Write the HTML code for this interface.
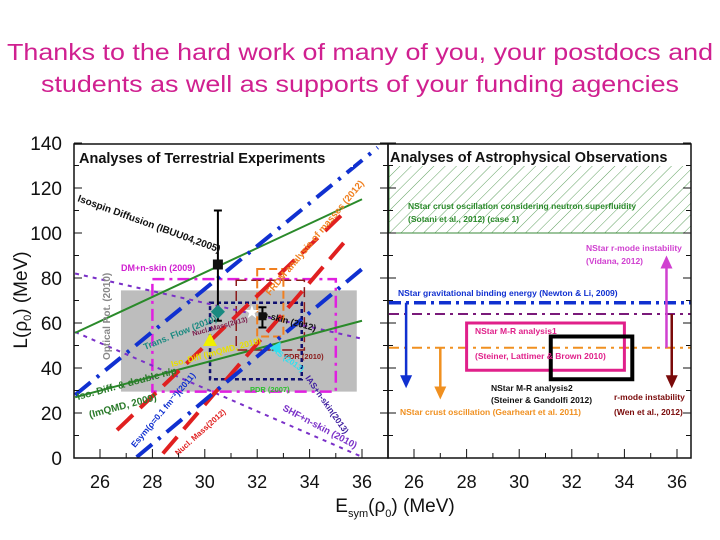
<!DOCTYPE html>
<html><head><meta charset="utf-8"><style>
body{margin:0;background:#fff;}
svg{display:block;font-family:"Liberation Sans",Arial,sans-serif;}
</style></head><body>
<svg id="chart" width="720" height="540" viewBox="0 0 720 540" xmlns="http://www.w3.org/2000/svg">
<defs>
<pattern id="hatch" width="8" height="8" patternUnits="userSpaceOnUse" patternTransform="rotate(45)">
<line x1="0" y1="0" x2="0" y2="8" stroke="#3a8a3a" stroke-width="0.8"/>
</pattern>
</defs>
<text x="360" y="60" text-anchor="middle" font-size="23" fill="#d02090" textLength="706" lengthAdjust="spacingAndGlyphs">Thanks to the hard work of many of you, your postdocs and</text>
<text x="360" y="92" text-anchor="middle" font-size="23" fill="#d02090" textLength="638" lengthAdjust="spacingAndGlyphs">students as well as supports of your funding agencies</text>
<g id="left"></g>
<g id="right"></g>
<g id="axes"></g>
</svg>
<script>
// ---- data ----
const xTickLabels = [26,28,30,32,34,36];
const yTickLabels = [0,20,40,60,80,100,120,140];
// terrestrial constraint lines: [e1, L1, e2, L2]
const greenLines = [[25.05,55.6,36,115],[25.05,27,36,61]];
const blueLines = [[25.05,28,36.6,138],[27.4,0.4,36,84]];
const redLines = [[26.65,12.4,35.4,110],[28.4,2,35.3,95.6]];
const purpleLines = [[25.05,82,36,53],[25.05,56,36,0.5]];
// boxes: [e1,e2,L1,L2]
const grayBox = [26.8,35.8,29.5,74.5];
const dmBox = [28.0,35.0,29.5,79.5];
const pdrBox = [30.2,33.7,35,69];
const frdmBox = [32.0,33.0,54,84];
const massBox = [31.2,33.8,48,79];
// points: [e, L, errLow, errHigh]
const ibuuPoint = [30.5,86,61,110];
const nskinPoint = [32.2,63,58,67];
const flowPoint = [30.5,65];
const starPoint = [31.8,65];
const isoPoint = [30.2,52];
const iasPoint = [32.7,49];
// astrophysical
const hatchBand = [100,130];
const gbeLevel = 69, rmodeLevel = 64, crustLevel = 49;
const mr1 = [28.0,34.0,39,60];
const mr2 = [31.2,34.3,35,54];
const arrowBlue = [25.7,69,31];
const arrowOrange = [27.0,49,26];
const arrowMagenta = [35.6,49,90];
const arrowDark = [35.8,64,31];

// ---- scales ----
const xL = e => 100 + (e-26)*26.2;
const xR = e => 414 + (e-26)*26.3;
const yS = L => 458 - L*2.25;
const NS="http://www.w3.org/2000/svg";
function mk(parent,tag,attrs){const el=document.createElementNS(NS,tag);for(const k in attrs)el.setAttribute(k,attrs[k]);parent.appendChild(el);return el;}
const left=document.getElementById('left'), right=document.getElementById('right'), axes=document.getElementById('axes');

function box(g,b,xs,stroke,fill,dash,w,name){
  const el=mk(g,'rect',{x:xs(b[0]),y:yS(b[3]),width:xs(b[1])-xs(b[0]),height:yS(b[2])-yS(b[3]),fill:fill,stroke:stroke,'stroke-width':w,'stroke-dasharray':dash});
  
  
}
box(left,grayBox,xL,'none','#bdbdbd','',0,'optical-pot-band');
box(left,dmBox,xL,'#e020e0','none','12 5 3 5',2.5,'dm-nskin-box');
box(left,massBox,xL,'#8b1a1a','none','10 5',1.5,'nucl-mass-box');
box(left,pdrBox,xL,'#101070','none','4 3',2.5,'pdr-box');
box(left,frdmBox,xL,'#f08020','none','8 4',2,'frdm-box');

function lines(g,arr,color,dash,w,name){
  arr.forEach(a=>{
    const el=mk(g,'line',{x1:xL(a[0]),y1:yS(a[1]),x2:xL(a[2]),y2:yS(a[3]),stroke:color,'stroke-width':w,'stroke-dasharray':dash});
    
    
  });
}
lines(left,purpleLines,'#7a30c8','4 5',2,'shf-nskin-line');
lines(left,greenLines,'#2a8a2a','',2,'imqmd-line');
lines(left,redLines,'#e02020','22 10',4,'nucl-mass-line');
lines(left,blueLines,'#1030d0','20 8 3 8',4,'esym-line');

// points
function errPoint(p,name,size){
  const el=mk(left,'line',{x1:xL(p[0]),x2:xL(p[0]),y1:yS(p[2]),y2:yS(p[3]),stroke:'#000','stroke-width':2});
  
  
  [p[2],p[3]].forEach(v=>{const c=mk(left,'line',{x1:xL(p[0])-4,x2:xL(p[0])+4,y1:yS(v),y2:yS(v),stroke:'#000','stroke-width':2});});
  const s=mk(left,'rect',{x:xL(p[0])-size/2,y:yS(p[1])-size/2,width:size,height:size,fill:'#101010'});
  
  
}
errPoint(ibuuPoint,'ibuu',10);
errPoint(nskinPoint,'nskin',8);
let d=mk(left,'rect',{x:xL(flowPoint[0])-5,y:yS(flowPoint[1])-5,width:10,height:10,fill:'#1a8a80',transform:`rotate(45 ${xL(flowPoint[0])} ${yS(flowPoint[1])})`});


let st=mk(left,'text',{x:xL(starPoint[0]),y:yS(starPoint[1])+6,'font-size':18,fill:'#fff','text-anchor':'middle'});
st.textContent='★';


let tri=mk(left,'polygon',{points:`${xL(isoPoint[0])},${yS(isoPoint[1])-8} ${xL(isoPoint[0])-7},${yS(isoPoint[1])+5} ${xL(isoPoint[0])+7},${yS(isoPoint[1])+5}`,fill:'#f0f000'});


let cy=mk(left,'polygon',{points:`${xL(iasPoint[0])-6},${yS(iasPoint[1])} ${xL(iasPoint[0])+5},${yS(iasPoint[1])-6} ${xL(iasPoint[0])+5},${yS(iasPoint[1])+6}`,fill:'#30e0f0'});



// left labels
function lbl(g,x,y,t,c,fs,rot,name,bold){
  const el=mk(g,'text',{x:x,y:y,'font-size':fs,fill:c,'font-weight':bold===false?'normal':'bold'});
  if(rot)el.setAttribute('transform',`rotate(${rot} ${x} ${y})`);
  el.textContent=t;
  
  
}
mk(left,'rect',{x:75,y:145,width:278,height:22,fill:'#fff'});
lbl(left,79,163,'Analyses of Terrestrial Experiments','#111',14.5,0,'terrestrial-title');
lbl(left,77,201,'Isospin Diffusion (IBUU04,2005)','#111',10,20,'isospin-diffusion-label');
lbl(left,121,271,'DM+n-skin (2009)','#d020d0',9,0,'dm-nskin-label');
lbl(left,110,360,'Optical Pot. (2010)','#888',10,-90,'optical-pot-label');
lbl(left,145,350,'Trans. Flow (2010)','#1a8a80',9,-22,'trans-flow-label');
lbl(left,193,336,'Nucl. Mass(2013)','#7a1a4a',7,-15,'nucl-mass-2013-label');
lbl(left,172,367,'Iso. Diff (ImQMD, 2010)','#e8e000',8.5,-15,'iso-diff-label');
lbl(left,270,296,'FRDM analysis of masses (2012)','#f08020',9.5,-50,'frdm-label');
lbl(left,262,317,'n-skin (2012)','#111',9,15,'nskin-label');
lbl(left,284,359,'PDR (2010)','#8b1a1a',7.5,0,'pdr-label');
lbl(left,250,392,'PDR (2007)','#30c030',7.5,0,'pdr-2007-label');
lbl(left,270,350,'IAS (2013)','#30e0f0',8,35,'ias-label');
lbl(left,305,378,'IAS+n-skin(2013)','#4020a0',8.5,55,'ias-nskin-label');
lbl(left,78,400,'Iso. Diff. & double n/p','#2a7a2a',10,-15,'iso-diff-double-label');
lbl(left,90,418,'(ImQMD, 2009)','#2a7a2a',10,-15,'imqmd-label');
lbl(left,135,448,'Esym(ρ=0.1 fm⁻³)(2011)','#1030d0',8.5,-50,'esym-label');
lbl(left,178,456,'Nucl. Mass(2012)','#e02020',8,-42,'nucl-mass-label');
lbl(left,282,410,'SHF+n-skin (2010)','#7a30c8',9.5,28,'shf-nskin-label');

// right panel
let h=mk(right,'rect',{x:389,y:yS(hatchBand[1]),width:302,height:yS(hatchBand[0])-yS(hatchBand[1]),fill:'url(#hatch)',stroke:'#3a8a3a','stroke-width':1});


mk(right,'rect',{x:389,y:145,width:302,height:21,fill:'#fff'});
function hline(L,c,dash,w,name){const el=mk(right,'line',{x1:389,x2:691,y1:yS(L),y2:yS(L),stroke:c,'stroke-width':w,'stroke-dasharray':dash});}
hline(gbeLevel,'#1030d0','12 5 3 5',3.5,'gbe-line');
hline(rmodeLevel,'#7a1a7a','10 5 3 5',2,'rmode-wen-line');
hline(crustLevel,'#f09020','10 5 3 5',2,'crust-osc-line');
box(right,mr1,xR,'#e0208a','none','',3,'mr-analysis1-box');
box(right,mr2,xR,'#000','none','',4,'mr-analysis2-box');
function arrow(a,c,name){
  const x=xR(a[0]),y1=yS(a[1]),y2=yS(a[2]);const dir=y2>y1?1:-1;
  const l=mk(right,'line',{x1:x,x2:x,y1:y1,y2:y2-dir*10,stroke:c,'stroke-width':2.5});
  
  
  const p=mk(right,'polygon',{points:`${x-6},${y2-dir*13} ${x+6},${y2-dir*13} ${x},${y2}`,fill:c});
  
  
}
arrow(arrowBlue,'#1030d0','gbe-arrow');
arrow(arrowOrange,'#f09020','crust-arrow');
arrow(arrowMagenta,'#d040d0','rmode-vidana-arrow');
arrow(arrowDark,'#7a0a0a','rmode-wen-arrow');
lbl(right,390,162,'Analyses of Astrophysical Observations','#111',14.5,0,'astro-title');
lbl(right,408,209,'NStar crust oscillation considering neutron superfluidity','#2a8a2a',8.5,0,'superfluidity-label');
lbl(right,408,222,'(Sotani et al., 2012) (case 1)','#2a8a2a',8.5,0,'sotani-label');
lbl(right,586,251,'NStar r-mode instability','#d040d0',8.5,0,'vidana-label');
lbl(right,586,264,'(Vidana, 2012)','#d040d0',8.5,0,'vidana-ref-label');
lbl(right,398,296,'NStar gravitational binding energy (Newton & Li, 2009)','#1030d0',8.5,0,'gbe-label');
lbl(right,475,334,'NStar M-R analysis1','#e0208a',8.5,0,'mr1-label');
lbl(right,475,359,'(Steiner, Lattimer & Brown 2010)','#e0208a',8.5,0,'mr1-ref-label');
lbl(right,491,391,'NStar M-R  analysis2','#111',8.5,0,'mr2-label');
lbl(right,491,403,'(Steiner & Gandolfi 2012)','#111',8.5,0,'mr2-ref-label');
lbl(right,400,415,'NStar crust oscillation (Gearheart et al. 2011)','#f09020',8.5,0,'crust-osc-label');
lbl(right,614,400,'r-mode instability','#7a0a0a',8.5,0,'wen-label');
lbl(right,614,415,'(Wen et al., 2012)','#7a0a0a',8.5,0,'wen-ref-label');

// axes / frame
function fr(x,y,w,h,name){const el=mk(axes,'rect',{x:x,y:y,width:w,height:h,fill:'none',stroke:'#111','stroke-width':1.5});}
fr(74,144,314,314,'left-frame');
fr(388,144,303,314,'right-frame');
for(let e=25;e<=37;e++){
  [[xL,74,388],[xR,388,691]].forEach(([xs,a,b])=>{
    const x=xs(e); if(x<=a||x>=b) return;
    const t=mk(axes,'line',{x1:x,x2:x,y1:458,y2:e%2===0?449:453,stroke:'#111','stroke-width':1});
    
    
  });
}
xTickLabels.forEach(e=>{
  [xL,xR].forEach(xs=>{
    const t=mk(axes,'text',{x:xs(e),y:488,'font-size':18,'text-anchor':'middle',fill:'#111'});
    t.textContent=e;
    
    
  });
});
for(let L=0;L<=140;L+=10){
  [[74,1],[388,-1],[388,1],[691,-1]].forEach(([x,s])=>{
    const t=mk(axes,'line',{x1:x,x2:x+s*(L%20===0?8:5),y1:yS(L),y2:yS(L),stroke:'#111','stroke-width':1});
    
    
  });
}
yTickLabels.forEach(L=>{
  const t=mk(axes,'text',{x:62,y:yS(L)+7,'font-size':19,'text-anchor':'end',fill:'#111'});
  t.textContent=L;
  
  
});
const yt=mk(axes,'text',{x:27,y:300,'font-size':19,'text-anchor':'middle',fill:'#111',transform:'rotate(-90 27 300)'});
yt.innerHTML='L(ρ<tspan font-size="11" dy="4">0</tspan><tspan dy="-4">) (MeV)</tspan>';


const xt=mk(axes,'text',{x:395,y:512,'font-size':19,'text-anchor':'middle',fill:'#111'});
xt.innerHTML='E<tspan font-size="11" dy="5">sym</tspan><tspan dy="-5">(ρ</tspan><tspan font-size="11" dy="5">0</tspan><tspan dy="-5">) (MeV)</tspan>';


</script>
</body></html>
